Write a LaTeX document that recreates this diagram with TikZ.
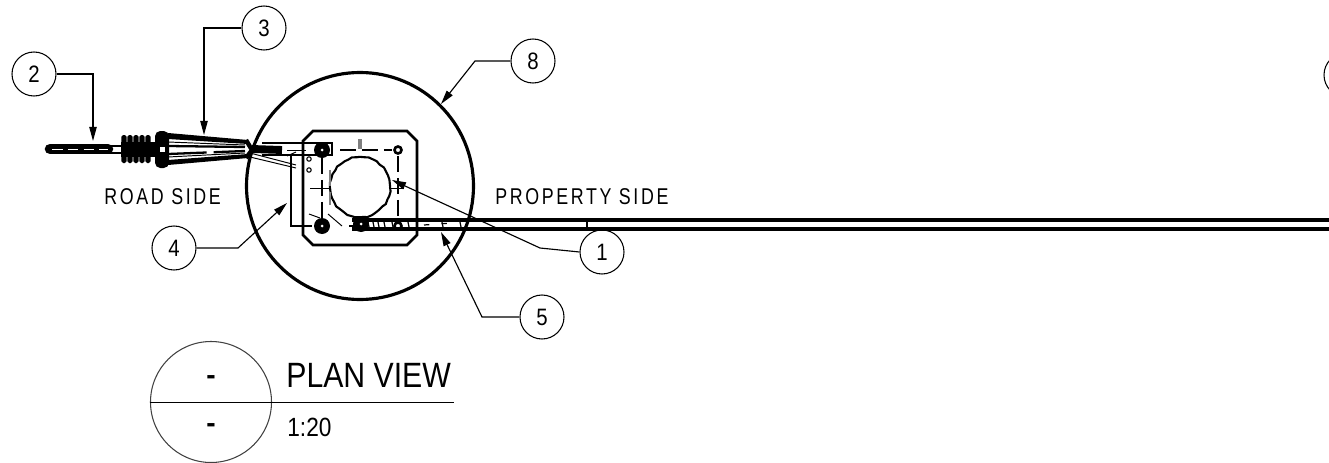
\documentclass[tikz,border=0pt]{standalone}
\usepackage{fontspec}
\setmainfont{Liberation Sans}
\newfontfamily\notefont[FakeStretch=0.78,LetterSpace=11.5]{Liberation Sans}
\newfontfamily\titlefont[FakeStretch=0.86]{Liberation Sans}
\usetikzlibrary{arrows.meta}
\usetikzlibrary{decorations.pathmorphing}
\usetikzlibrary{positioning}
\newcommand{\boltbig}{\draw[fill=black, draw=none] (0,0) circle (8);
					\draw[fill=white, draw=none] (0,0) circle (1.5);}
\newcommand{\boltsmall}{\draw[line width=1.5pt, fill=white] (0,0) circle (3.5);}
\newcommand{\pinhole}{\draw[line width=0.6pt, fill=white] (0,0) circle (2.2);}
\newcommand{\glandrib}{\draw[fill=black, draw=none, rounded corners=1] (-2.6,-14) -- (2.6,-14) -- (2.6,14) -- (-2.6,14) -- cycle;}
\tikzset{
	callout/.style={draw, circle, line width=0.6pt, minimum size=44*0.02cm, inner sep=0pt, font=\titlefont\fontsize{13.5}{13.5}\selectfont},
	leader/.style={line width=0.65pt, -{Triangle[length=8pt,width=4.2pt]}},
	heavy/.style={line width=1.8pt},
	pipe/.style={line width=1.9pt},
	thinrule/.style={line width=0.55pt},
	hidden/.style={line width=0.9pt, dash pattern=on 9pt off 3.5pt},
	notetext/.style={inner sep=0pt, font=\notefont\fontsize{13}{13}\selectfont}
}

\begin{document}
\begin{tikzpicture}[x=0.02cm, y=-0.02cm]
	\useasboundingbox (0,0) rectangle (1329,463);
	\clip (0,0) rectangle (1329,463);

	% post and base plate
	\draw[heavy] (360,186) circle (113.5);
	\draw[line width=1.6pt] (313,131) -- (407,131) -- (417,141) -- (417,235) -- (407,245) -- (313,245) -- (303,235) -- (303,141) -- cycle;
	\draw[line width=1.2pt, decorate, decoration={random steps, segment length=2.5pt, amplitude=0.35pt}] (390,187) arc (0:360:30);

	% hidden lines
	\draw[hidden] (340,150) -- (392,150);
	\draw[hidden] (322,158) -- (322,218);
	\draw[hidden] (398,156) -- (398,222);
	\draw[hidden, gray] (330,170) -- (330,205);
	\draw[line width=2pt, gray] (360,139) -- (360,149);
	\draw[thinrule] (310,188) -- (331,188);
	\draw[thinrule] (390,188) -- (404,188);

	\begin{scope}[shift={(322,150)}]
		\boltbig
	\end{scope}
	\begin{scope}[shift={(398,150)}]
		\boltsmall
	\end{scope}
	\begin{scope}[shift={(322,226)}]
		\boltbig
	\end{scope}
	\begin{scope}[shift={(398,226)}]
		\boltsmall
	\end{scope}
	\begin{scope}[shift={(361,224)}]
		\boltbig
	\end{scope}
	\begin{scope}[shift={(309,159)}]
		\pinhole
	\end{scope}
	\begin{scope}[shift={(309,170)}]
		\pinhole
	\end{scope}

	% conduit along the ground
	\draw[pipe] (352,220) -- (1329,220);
	\draw[pipe] (352,229) -- (1329,229);
	\draw[line width=0.9pt] (587,220) -- (587,229);
	\foreach \px in {368,373,378,384,392,408,442,460}{
		\draw[line width=0.7pt] (\px,222) -- (\px+1,227);
	}
	\draw[line width=0.7pt, dash pattern=on 3pt off 7pt] (424,225) -- (452,223);

	% bracket at the plate
	\draw[line width=1.5pt] (291,155) -- (291,226) -- (312,226);
	\draw[line width=1.3pt] (262,143) -- (332,143) -- (332,155) -- (262,155);
	\draw[thinrule] (309,214) -- (320,218);
	\draw[thinrule] (328,214) -- (342,226);
	\draw[line width=0.9pt] (349,226) -- (360,226);

	% cable and gland
	\draw[line width=6pt, line cap=round] (50,149) -- (108,149);
	\draw[white, line width=0.5pt, dash pattern=on 6pt off 3pt] (52,149) -- (108,149);
	\draw[line width=1.6pt] (108,146) -- (122,146);
	\draw[line width=1.6pt] (108,153) -- (122,153);
	\begin{scope}[shift={(124,149)}]
		\glandrib
	\end{scope}
	\begin{scope}[shift={(130,149)}]
		\glandrib
	\end{scope}
	\begin{scope}[shift={(136,149)}]
		\glandrib
	\end{scope}
	\begin{scope}[shift={(142,149)}]
		\glandrib
	\end{scope}
	\begin{scope}[shift={(148,149)}]
		\glandrib
	\end{scope}
	\draw[fill=black, draw=none] (121,142) rectangle (155,157);
	\draw[fill=black, draw=none, rounded corners=3] (155,131) rectangle (169,168);
	\draw[fill=white, draw=none] (160,147) rectangle (165,152);
	\draw[fill=black, draw=none] (168,133) -- (248,140) -- (248,144) -- (168,139) -- cycle;
	\draw[fill=black, draw=none] (168,160) -- (248,154) -- (248,158) -- (168,165) -- cycle;
	\draw[thinrule] (168,142) -- (245,145);
	\draw[thinrule] (168,157) -- (245,153);
	\draw[line width=1.3pt] (168,146) -- (245,147);
	\draw[line width=1.3pt, dash pattern=on 22pt off 4pt] (168,154) -- (245,151);
	\draw[line width=2.5pt] (246,140) -- (252,150) -- (246,158);
	\draw[line width=4.5pt] (252,149) -- (282,150);
	\draw[thinrule] (250,153) -- (296,165);
	\draw[thinrule] (250,157) -- (296,168);
	\draw[thinrule] (287,150) -- (306,150);
	\draw[thinrule] (287,156) -- (296,152);

	% callouts
	\node[callout] (bubbletwo) at (34,74) {2};
	\node[callout] (bubblethree) at (264,28) {3};
	\node[callout] (bubbleeight) at (533,61) {8};
	\node[callout] (bubblefour) at (174,248) {4};
	\node[callout] (bubbleone) at (602,252) {1};
	\node[callout] (bubblefive) at (542,317) {5};
	\node[callout] (bubbleoff) at (1346,75) {};

	\coordinate (tiptwo) at (93,141);
	\coordinate (tipthree) at (204,135);
	\coordinate (tipeight) at (441,104);
	\coordinate (tipfour) at (287,203);
	\coordinate (tipone) at (392,180);
	\coordinate (tipfive) at (441,232);

	\draw[leader] (bubbletwo.east) -- (93,74) -- (tiptwo);
	\draw[leader] (bubblethree.west) -- (204,28) -- (tipthree);
	\draw[leader] (bubbleeight.west) -- (475,61) -- (tipeight);
	\draw[leader] (bubblefour.east) -- (238,248) -- (tipfour);
	\draw[leader] (bubbleone.west) -- (540,248) -- (tipone);
	\draw[leader] (bubblefive.west) -- (482,317) -- (tipfive);

	% notes
	\node[notetext, anchor=west] (roadside) at (104,197) {ROAD SIDE};
	\node[notetext, anchor=west] (propertyside) at (495,197) {PROPERTY SIDE};

	% view title
	\node[draw, circle, line width=0.6pt, draw=black!75, minimum size=121*0.02cm, inner sep=0pt] (viewmark) at (211,402) {};
	\coordinate (ruleend) at (454,402);
	\draw[line width=0.5pt] (viewmark.west) -- (ruleend);
	\node[inner sep=0pt, font=\bfseries\fontsize{16}{16}\selectfont] (viewtop) at (211,380) {-};
	\node[inner sep=0pt, font=\bfseries\fontsize{16}{16}\selectfont] (viewbottom) at (211,428) {-};
	\node[inner sep=0pt, anchor=base west, font=\titlefont\fontsize{20}{20}\selectfont] (viewtitle) at (286,387) {PLAN VIEW};
	\node[inner sep=0pt, anchor=base west, font=\titlefont\fontsize{15}{15}\selectfont] (viewscale) at (287,436) {1:20};
\end{tikzpicture}
\end{document}
